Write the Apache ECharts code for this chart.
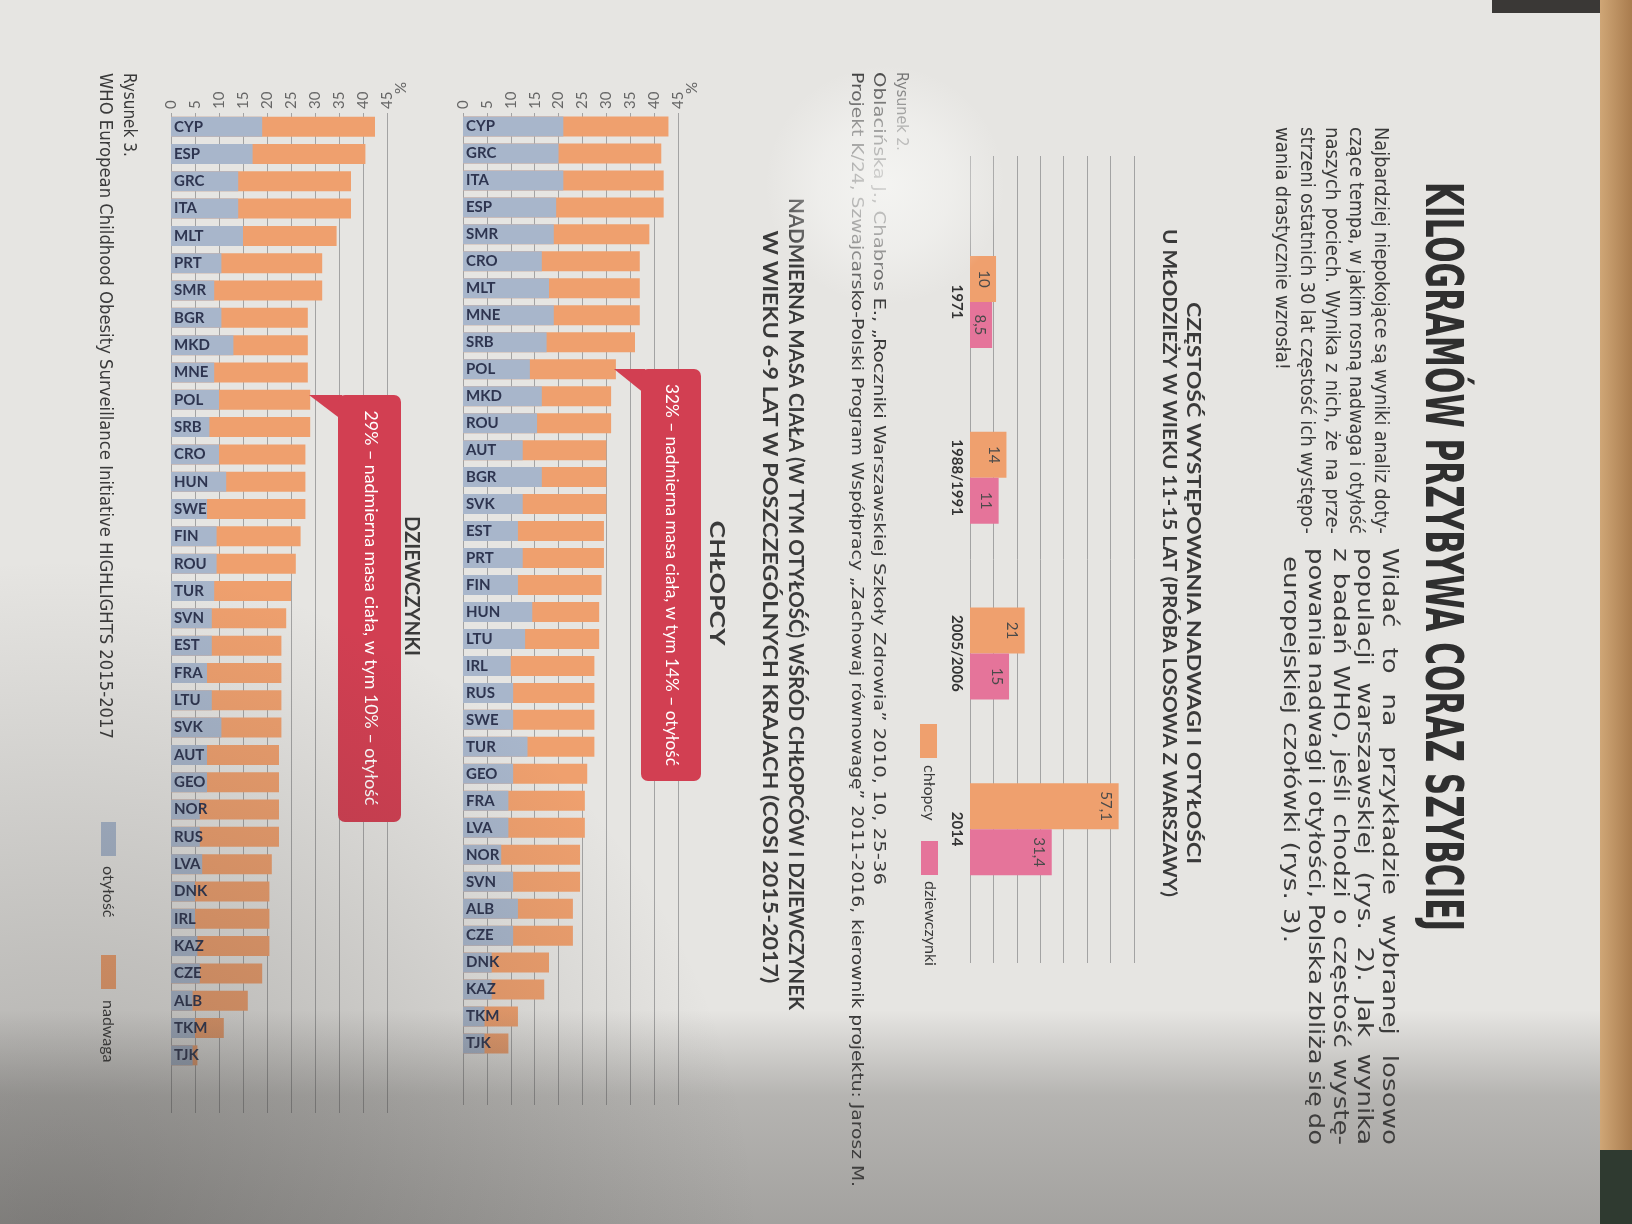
<!DOCTYPE html>
<html>
<head>
<meta charset="utf-8">
<script src="https://cdn.jsdelivr.net/npm/echarts@6/dist/echarts.min.js"></script>
<style>
  html, body { margin: 0; padding: 0; background: #e6e5e2; }
  #container { width: 1632px; height: 1224px; }
</style>
</head>
<body>
<div id="container"></div>
<script>
// rys. 2 - Warszawa, 11-15 lat
var years = ['1971', '1988/1991', '2005/2006', '2014'];
var warsawBoys = [10, 14, 21, 57.1];
var warsawGirls = [8.5, 11, 15, 31.4];

// rys. 3 - COSI 2015-2017, chlopcy
var boysCountries = ['CYP', 'GRC', 'ITA', 'ESP', 'SMR', 'CRO', 'MLT', 'MNE', 'SRB', 'POL', 'MKD', 'ROU',
  'AUT', 'BGR', 'SVK', 'EST', 'PRT', 'FIN', 'HUN', 'LTU', 'IRL', 'RUS', 'SWE', 'TUR', 'GEO', 'FRA',
  'LVA', 'NOR', 'SVN', 'ALB', 'CZE', 'DNK', 'KAZ', 'TKM', 'TJK'];
var boysOverweight = [43, 41.5, 42, 42, 39, 37, 37, 37, 36, 32, 31, 31, 30, 30, 30, 29.5, 29.5, 29,
  28.5, 28.5, 27.5, 27.5, 27.5, 27.5, 26, 25.5, 25.5, 24.5, 24.5, 23, 23, 18, 17, 11.5, 9.5];
var boysObesity = [21, 20, 21, 19.5, 19, 16.5, 18, 19, 17.5, 14, 16.5, 15.5, 12.5, 16.5, 12.5, 11.5,
  12.5, 11.5, 14.5, 13, 10, 10.5, 10.5, 13.5, 10.5, 9.5, 9.5, 8, 10.5, 11.5, 10.5, 6, 6, 4.5, 4.5];

// dziewczynki
var girlsCountries = ['CYP', 'ESP', 'GRC', 'ITA', 'MLT', 'PRT', 'SMR', 'BGR', 'MKD', 'MNE', 'POL', 'SRB',
  'CRO', 'HUN', 'SWE', 'FIN', 'ROU', 'TUR', 'SVN', 'EST', 'FRA', 'LTU', 'SVK', 'AUT', 'GEO', 'NOR',
  'RUS', 'LVA', 'DNK', 'IRL', 'KAZ', 'CZE', 'ALB', 'TKM', 'TJK'];
var girlsOverweight = [42.5, 40.5, 37.5, 37.5, 34.5, 31.5, 31.5, 28.5, 28.5, 28.5, 29, 29, 28, 28, 28,
  27, 26, 25, 24, 23, 23, 23, 23, 22.5, 22.5, 22.5, 22.5, 21, 20.5, 20.5, 20.5, 19, 16, 11, 5.5];
var girlsObesity = [19, 17, 14, 14, 15, 10.5, 9, 10.5, 13, 9, 10, 8, 10, 11.5, 7.5, 9.5, 9.5, 9, 8.5,
  8.5, 7.5, 8.5, 10.5, 7.5, 7.5, 6, 6, 6.5, 5, 5, 5.5, 6, 4.5, 5, 4.5];

var ORANGE = '#efa06e';
var BLUE = '#a8b6cb';
var PINK = '#e5749a';
var RED = '#d23f52';
var INK = '#3a3a3a';
var NARROW = "'Liberation Sans Narrow', 'DejaVu Sans Condensed', sans-serif";
var LATO = "Lato, 'Open Sans', sans-serif";

var measure = document.createElement('canvas').getContext('2d');
function textWidth(text, size, family, weight) {
  measure.font = weight + ' ' + size + 'px ' + family;
  return measure.measureText(text).width;
}

// text read top-to-bottom (the page is rotated in the photo)
function vtext(x, y, text, o) {
  o = o || {};
  var size = o.size || 16, family = o.family || NARROW, weight = o.weight || 'normal';
  var sx = o.sx || 1;
  if (o.len) sx = o.len / textWidth(text, size, family, weight);
  var align = o.align || 'left';
  return {
    type: 'text', x: x, y: y, rotation: -Math.PI / 2, scaleX: sx, z: o.z || 50,
    style: {
      text: text, fill: o.color || INK, fontSize: size, fontFamily: family, fontWeight: weight,
      align: align, verticalAlign: 'middle', textAlign: align, textVerticalAlign: 'middle'
    }
  };
}

// justified body line: words spread over len, letters squeezed if they do not fit
function justified(x, y, text, len, o) {
  var words = text.split(' ');
  var raw = words.map(function (w) { return textWidth(w, o.size, NARROW, 'normal'); });
  var rawTotal = raw.reduce(function (a, b) { return a + b; }, 0);
  var minGap = o.size * 0.26;
  var sx = o.sx;
  if (len && rawTotal * sx + minGap * (words.length - 1) > len) {
    sx = (len - minGap * (words.length - 1)) / rawTotal;
  }
  var gap = len ? (len - rawTotal * sx) / (words.length - 1) : o.size * 0.28 * sx;
  var pos = y, out = [];
  words.forEach(function (w, i) {
    out.push(vtext(x, pos, w, { size: o.size, sx: sx }));
    pos += raw[i] * sx + gap;
  });
  return out;
}

var graphics = [];

// title + body text
graphics.push(vtext(1440, 182, 'KILOGRAMÓW PRZYBYWA CORAZ SZYBCIEJ', { size: 52, weight: 'bold', len: 749, color: '#2f2f2f' }));

var col1 = [
  'Najbardziej niepokojące są wyniki analiz doty-',
  'czące tempa, w jakim rosną nadwaga i otyłość',
  'naszych pociech. Wynika z nich, że na prze-',
  'strzeni ostatnich 30 lat częstość ich występo-',
  'wania drastycznie wzrosła!'
];
var col1x = [1380, 1355, 1331, 1306, 1281];
col1.forEach(function (t, i) {
  graphics = graphics.concat(justified(col1x[i], 127, t, i < 4 ? 407 : null, { size: 20, sx: 1 }));
});
var col2 = [
  'Widać to na przykładzie wybranej losowo',
  'populacji warszawskiej (rys. 2). Jak wynika',
  'z badań WHO, jeśli chodzi o częstość wystę-',
  'powania nadwagi i otyłości, Polska zbliża się do',
  'europejskiej czołówki (rys. 3).'
];
var col2x = [1389, 1364, 1340, 1315, 1290];
col2.forEach(function (t, i) {
  graphics = graphics.concat(justified(col2x[i], i === 4 ? 556 : 548, t, i < 4 ? 597 : null, { size: 22, sx: 1.32 }));
});

// rys. 2 title, legend, source
graphics.push(vtext(1193, 583, 'CZĘSTOŚĆ WYSTĘPOWANIA NADWAGI I OTYŁOŚCI', { size: 19, weight: 'bold', family: LATO, align: 'center', len: 562 }));
graphics.push(vtext(1169, 563, 'U MŁODZIEŻY W WIEKU 11-15 LAT (PRÓBA LOSOWA Z WARSZAWY)', { size: 19, weight: 'bold', family: LATO, align: 'center', len: 668 }));
graphics.push({ type: 'rect', z: 50, shape: { x: 920, y: 724, width: 17, height: 34 }, style: { fill: ORANGE } });
graphics.push(vtext(929, 765, 'chłopcy', { size: 16, family: LATO }));
graphics.push({ type: 'rect', z: 50, shape: { x: 921, y: 841, width: 17, height: 34 }, style: { fill: PINK } });
graphics.push(vtext(930, 881, 'dziewczynki', { size: 16, family: LATO }));
graphics.push(vtext(901, 72, 'Rysunek 2.', { size: 16, color: '#666' }));
graphics.push(vtext(878, 72, 'Oblacińska J., Chabros E., „Roczniki Warszawskiej Szkoły Zdrowia” 2010, 10, 25-36', { size: 16, len: 813 }));
graphics.push(vtext(856, 72, 'Projekt K/24, Szwajcarsko-Polski Program Współpracy „Zachowaj równowagę” 2011-2016, kierownik projektu: Jarosz M.', { size: 16, len: 1115 }));

// rys. 3 titles
graphics.push(vtext(795, 604, 'NADMIERNA MASA CIAŁA (W TYM OTYŁOŚĆ) WŚRÓD CHŁOPCÓW I DZIEWCZYNEK', { size: 20, weight: 'bold', family: LATO, align: 'center', len: 812 }));
graphics.push(vtext(769, 607, 'W WIEKU 6-9 LAT W POSZCZEGÓLNYCH KRAJACH (COSI 2015-2017)', { size: 20, weight: 'bold', family: LATO, align: 'center', len: 753 }));
graphics.push(vtext(716, 583, 'CHŁOPCY', { size: 20, weight: 'bold', family: LATO, align: 'center', len: 125 }));
graphics.push(vtext(411, 586, 'DZIEWCZYNKI', { size: 20, weight: 'bold', family: LATO, align: 'center', len: 140 }));
graphics.push(vtext(691, 88, '%', { size: 15, family: LATO, color: '#666', align: 'center' }));
graphics.push(vtext(400, 88, '%', { size: 15, family: LATO, color: '#666', align: 'center' }));

// callouts
graphics.push({ type: 'polygon', z: 40, shape: { points: [[614, 369], [645, 369], [645, 394]] }, style: { fill: RED } });
graphics.push({ type: 'rect', z: 40, shape: { x: 641, y: 369, width: 60, height: 412, r: 7 }, style: { fill: RED } });
graphics.push(vtext(671, 575, '32% – nadmierna masa ciała, w tym 14% – otyłość', { size: 17, family: LATO, color: '#fff', align: 'center', len: 382 }));
graphics.push({ type: 'polygon', z: 40, shape: { points: [[309, 395], [342, 395], [342, 420]] }, style: { fill: RED } });
graphics.push({ type: 'rect', z: 40, shape: { x: 338, y: 395, width: 63, height: 427, r: 7 }, style: { fill: RED } });
graphics.push(vtext(370, 608, '29% – nadmierna masa ciała, w tym 10% – otyłość', { size: 17, family: LATO, color: '#fff', align: 'center', len: 395 }));

// rys. 3 source + legend
graphics.push(vtext(128, 73, 'Rysunek 3.', { size: 17 }));
graphics.push(vtext(104, 73, 'WHO European Childhood Obesity Surveillance Initiative HIGHLIGHTS 2015-2017', { size: 17, len: 666 }));
graphics.push({ type: 'rect', z: 50, shape: { x: 101, y: 822, width: 15, height: 34 }, style: { fill: BLUE } });
graphics.push(vtext(108, 866, 'otyłość', { size: 16, family: LATO }));
graphics.push({ type: 'rect', z: 50, shape: { x: 101, y: 955, width: 15, height: 34 }, style: { fill: ORANGE } });
graphics.push(vtext(108, 1000, 'nadwaga', { size: 16, family: LATO }));

// photo surroundings: glare, shadow, book edge
graphics.push({ type: 'ellipse', z: 90, silent: true, shape: { cx: 885, cy: 185, rx: 120, ry: 160 },
  style: { fill: new echarts.graphic.RadialGradient(0.5, 0.5, 0.5, [
    { offset: 0, color: 'rgba(246,246,244,0.85)' }, { offset: 0.55, color: 'rgba(246,246,244,0.5)' }, { offset: 1, color: 'rgba(246,246,244,0)' }]) } });
graphics.push({ type: 'rect', z: 95, silent: true, shape: { x: 0, y: 1010, width: 1632, height: 214 },
  style: { fill: new echarts.graphic.LinearGradient(0, 0, 0, 1, [
    { offset: 0, color: 'rgba(70,68,66,0)' }, { offset: 0.4, color: 'rgba(70,68,66,0.3)' }, { offset: 1, color: 'rgba(70,68,66,0.42)' }]) } });
graphics.push({ type: 'circle', z: 95, silent: true, shape: { cx: 60, cy: 1260, r: 700 },
  style: { fill: new echarts.graphic.RadialGradient(0.5, 0.5, 0.5, [
    { offset: 0, color: 'rgba(50,48,46,0.35)' }, { offset: 0.45, color: 'rgba(50,48,46,0.2)' }, { offset: 1, color: 'rgba(50,48,46,0)' }]) } });
graphics.push({ type: 'rect', z: 96, silent: true, shape: { x: 1600, y: 0, width: 32, height: 1224 },
  style: { fill: new echarts.graphic.LinearGradient(0, 0, 1, 0, [
    { offset: 0, color: '#cfa676' }, { offset: 1, color: '#a97c4e' }]) } });
graphics.push({ type: 'rect', z: 96, silent: true, shape: { x: 1492, y: 0, width: 108, height: 13 }, style: { fill: '#3a3836' } });
graphics.push({ type: 'rect', z: 97, silent: true, shape: { x: 1600, y: 1150, width: 32, height: 74 }, style: { fill: '#2f3a30' } });

var gridLine = { show: true, lineStyle: { color: '#a3a3a3', width: 1 } };
var noLine = { show: false };
var valueLabel = { rotate: -90, margin: 4, color: '#666', fontSize: 15, fontFamily: LATO };
var codeLabel = { inside: true, margin: 3, color: '#2e3550', fontSize: 15, fontWeight: 'bold', fontFamily: LATO };
var barValue = {
  show: true, position: 'insideRight', rotate: -90, align: 'center', verticalAlign: 'top', distance: 5,
  color: '#4a4a4a', fontSize: 15, fontFamily: LATO,
  formatter: function (p) { return String(p.value).replace('.', ','); }
};

var option = {
  backgroundColor: '#e6e5e2',
  animation: false,
  grid: [
    { left: 970, top: 214, width: 164, height: 703 },
    { left: 970, top: 156, width: 164, height: 807 },
    { left: 463, top: 113, width: 215, height: 944 },
    { left: 463, top: 113, width: 215, height: 992 },
    { left: 171, top: 113, width: 216, height: 956 },
    { left: 171, top: 113, width: 216, height: 1000 }
  ],
  xAxis: [
    { gridIndex: 0, type: 'value', min: 0, max: 63, interval: 9, axisLine: noLine, axisTick: noLine, axisLabel: noLine, splitLine: noLine },
    { gridIndex: 1, type: 'value', min: 0, max: 63, interval: 9, axisLine: noLine, axisTick: noLine, axisLabel: noLine, splitLine: gridLine },
    { gridIndex: 2, type: 'value', position: 'top', min: 0, max: 45, interval: 5, axisLine: noLine, axisTick: noLine, axisLabel: valueLabel, splitLine: noLine },
    { gridIndex: 3, type: 'value', min: 0, max: 45, interval: 5, axisLine: noLine, axisTick: noLine, axisLabel: noLine, splitLine: gridLine },
    { gridIndex: 4, type: 'value', position: 'top', min: 0, max: 45, interval: 5, axisLine: noLine, axisTick: noLine, axisLabel: valueLabel, splitLine: noLine },
    { gridIndex: 5, type: 'value', min: 0, max: 45, interval: 5, axisLine: noLine, axisTick: noLine, axisLabel: noLine, splitLine: gridLine }
  ],
  yAxis: [
    { gridIndex: 0, type: 'category', data: years, inverse: true, axisLine: noLine, axisTick: noLine,
      axisLabel: { rotate: -90, margin: 6, color: '#333', fontSize: 15, fontWeight: 'bold', fontFamily: LATO } },
    { gridIndex: 1, type: 'value', show: false },
    { gridIndex: 2, type: 'category', data: boysCountries, inverse: true, z: 10, axisLine: noLine, axisTick: noLine, axisLabel: codeLabel },
    { gridIndex: 3, type: 'value', show: false },
    { gridIndex: 4, type: 'category', data: girlsCountries, inverse: true, z: 10, axisLine: noLine, axisTick: noLine, axisLabel: codeLabel },
    { gridIndex: 5, type: 'value', show: false }
  ],
  series: [
    { name: 'chłopcy', type: 'bar', xAxisIndex: 0, yAxisIndex: 0, data: warsawBoys, barWidth: 46, barGap: '0%',
      itemStyle: { color: ORANGE }, label: barValue },
    { name: 'dziewczynki', type: 'bar', xAxisIndex: 0, yAxisIndex: 0, data: warsawGirls, barWidth: 46, barGap: '0%',
      itemStyle: { color: PINK }, label: barValue },
    { name: 'nadwaga', type: 'bar', xAxisIndex: 2, yAxisIndex: 2, data: boysOverweight, barWidth: 20, barGap: '-100%', itemStyle: { color: ORANGE } },
    { name: 'otyłość', type: 'bar', xAxisIndex: 2, yAxisIndex: 2, data: boysObesity, barWidth: 20, barGap: '-100%', itemStyle: { color: BLUE } },
    { name: 'nadwaga', type: 'bar', xAxisIndex: 4, yAxisIndex: 4, data: girlsOverweight, barWidth: 20, barGap: '-100%', itemStyle: { color: ORANGE } },
    { name: 'otyłość', type: 'bar', xAxisIndex: 4, yAxisIndex: 4, data: girlsObesity, barWidth: 20, barGap: '-100%', itemStyle: { color: BLUE } }
  ],
  graphic: { elements: graphics }
};

var myChart = echarts.init(document.getElementById('container'), null, { renderer: 'canvas' });
myChart.setOption(option);
window.addEventListener('resize', myChart.resize);
</script>
</body>
</html>
